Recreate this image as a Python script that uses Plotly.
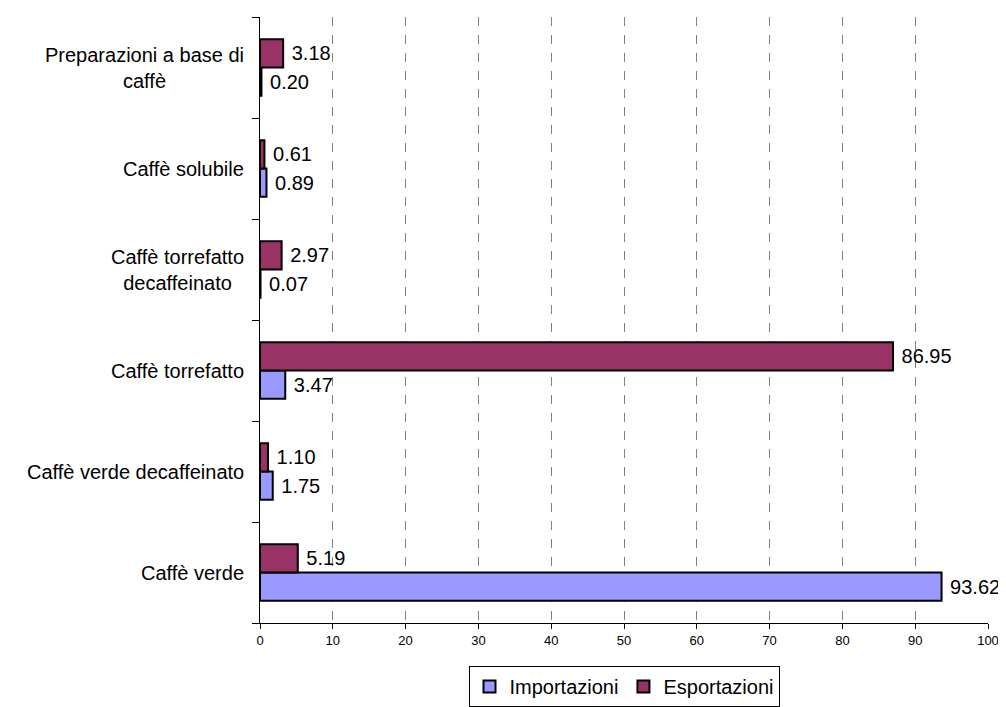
import plotly.graph_objects as go

categories = ["Caffè verde", "Caffè verde decaffeinato", "Caffè torrefatto",
              "Caffè torrefatto<br>decaffeinato", "Caffè solubile",
              "Preparazioni a base di<br>caffè"]
importazioni = [93.62, 1.75, 3.47, 0.07, 0.89, 0.20]
esportazioni = [5.19, 1.10, 86.95, 2.97, 0.61, 3.18]
x_ticks = [0, 10, 20, 30, 40, 50, 60, 70, 80, 90, 100]

FONT = "Liberation Sans, Arial, sans-serif"

fig = go.Figure()
fig.add_trace(go.Bar(
    y=categories, x=importazioni, orientation="h", name="Importazioni",
    marker=dict(color="#9999FF", line=dict(color="black", width=2)),
    text=[f" {v:.2f}" for v in importazioni], textposition="outside",
    textfont=dict(size=20, color="black", family=FONT), cliponaxis=False,
))
fig.add_trace(go.Bar(
    y=categories, x=esportazioni, orientation="h", name="Esportazioni",
    marker=dict(color="#993366", line=dict(color="black", width=2)),
    text=[f" {v:.2f}" for v in esportazioni], textposition="outside",
    textfont=dict(size=20, color="black", family=FONT), cliponaxis=False,
))

for c in categories:
    fig.add_annotation(
        x=0, xref="paper", y=c, yref="y", text=c, showarrow=False,
        xanchor="right", yanchor="middle", align="center", xshift=-14,
        font=dict(size=20, color="black", family=FONT),
    )

fig.update_layout(
    width=998, height=699,
    margin=dict(l=252, r=18, t=9, b=84, autoexpand=False),
    paper_bgcolor="white", plot_bgcolor="white",
    barmode="group", bargap=0.44, bargroupgap=0,
    font=dict(family=FONT, color="black"),
    showlegend=True,
    legend=dict(orientation="h", x=0.5, xanchor="center",
                yref="container", y=0, yanchor="bottom",
                bordercolor="black", borderwidth=1, font=dict(size=20),
                traceorder="normal", itemwidth=30),
    uniformtext=dict(mode=False),
)
fig.update_xaxes(
    range=[0, 100], tickvals=x_ticks, ticktext=[str(t) for t in x_ticks],
    showgrid=True, gridcolor="#808080", griddash="dash", gridwidth=1,
    showline=True, linecolor="black", linewidth=1,
    ticks="outside", ticklen=5, tickcolor="black",
    tickfont=dict(size=13), zeroline=False,
)
fig.update_yaxes(
    showline=True, linecolor="black", linewidth=1,
    ticks="outside", tickson="boundaries", ticklen=7, tickcolor="black",
    showticklabels=False, showgrid=False, zeroline=False,
)

fig.write_html("out.html")
